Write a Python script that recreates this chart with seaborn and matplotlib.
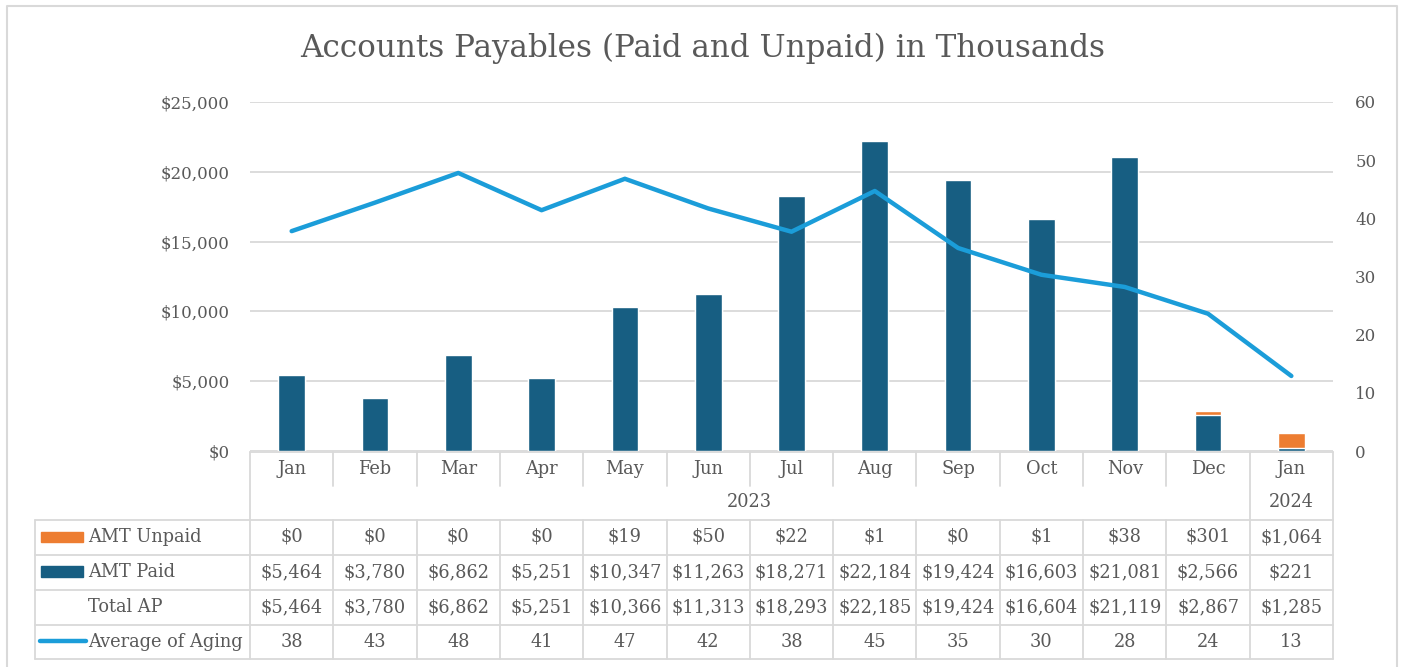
import numpy as np
import matplotlib
matplotlib.use("Agg")
import matplotlib.pyplot as plt
from matplotlib.patches import Rectangle
import seaborn as sns

# dados (valores em milhares)
meses = ["Jan", "Feb", "Mar", "Apr", "May", "Jun", "Jul", "Aug", "Sep", "Oct", "Nov", "Dec", "Jan"]
anos = ["2023"] * 12 + ["2024"]
amt_unpaid = [0, 0, 0, 0, 19, 50, 22, 1, 0, 1, 38, 301, 1064]
amt_paid = [5464, 3780, 6862, 5251, 10347, 11263, 18271, 22184, 19424, 16603, 21081, 2566, 221]
aging = [37.8, 42.7, 47.8, 41.4, 46.8, 41.7, 37.7, 44.7, 34.9, 30.3, 28.2, 23.6, 12.9]

total_ap = [u + p for u, p in zip(amt_unpaid, amt_paid)]
pos = np.arange(len(meses))

cor_unpaid = "#ED7D31"
cor_paid = "#175E82"
cor_linha = "#1B9DD9"
cor_grade = "#D9D9D9"
cor_texto = "#595959"

sns.set_style("white")
plt.rcParams["font.family"] = ["DejaVu Serif"]

W, H = 1401, 667
fig = plt.figure(figsize=(W / 100, H / 100), dpi=100)

# eixo de fundo em pixels para bordas e tabela
bg = fig.add_axes([0, 0, 1, 1])
bg.set_xlim(0, W)
bg.set_ylim(H, 0)
bg.axis("off")

x0, x1 = 250, 1333
y_top, y_zero = 102, 451
ax = fig.add_axes([x0 / W, 1 - y_zero / H, (x1 - x0) / W, (y_zero - y_top) / H])
ax.patch.set_alpha(0)

# barras empilhadas: total (laranja) por baixo, pago (azul) por cima
sns.barplot(x=pos, y=total_ap, color=cor_unpaid, width=0.32, saturation=1, ax=ax, zorder=3)
sns.barplot(x=pos, y=amt_paid, color=cor_paid, width=0.32, saturation=1, ax=ax, zorder=4)

ax.set_xlim(-0.5, len(meses) - 0.5)
ax.set_ylim(0, 25000)
ax.set_yticks(np.arange(0, 25001, 5000))
ax.set_yticklabels([f"${v:,.0f}" for v in np.arange(0, 25001, 5000)])
ax.yaxis.grid(True, color=cor_grade, lw=1.3, zorder=0)
ax.set_axisbelow(True)
ax.set_xticks([])
ax.set_xlabel("")
ax.set_ylabel("")
ax.tick_params(axis="y", length=0, pad=14.4, labelsize=12, labelcolor=cor_texto)
for s in ax.spines.values():
    s.set_visible(False)

ax2 = ax.twinx()
sns.lineplot(x=pos, y=aging, color=cor_linha, lw=3.2, ax=ax2, zorder=5)
ax2.set_xlim(-0.5, len(meses) - 0.5)
ax2.set_ylim(0, 60)
ax2.set_yticks(np.arange(0, 61, 10))
ax2.tick_params(axis="y", length=0, pad=16, labelsize=12, labelcolor=cor_texto)
ax2.set_ylabel("")
for s in ax2.spines.values():
    s.set_visible(False)

# titulo
bg.text(W / 2 + 2, 48, "Accounts Payables (Paid and Unpaid) in Thousands",
        ha="center", va="center", fontsize=22.3, color=cor_texto)

# borda externa
bg.plot([7, 7, 1397, 1397], [667, 6, 6, 667], color=cor_grade, lw=1.5, clip_on=False)

# tabela de dados
cw = (x1 - x0) / len(meses)
lw_t = 1.3
linhas_y = [452, 486, 520, 555, 590, 625, 659]
bg.plot([x0, x1], [452, 452], color=cor_grade, lw=lw_t)
for y in linhas_y[2:]:
    bg.plot([35, x1], [y, y], color=cor_grade, lw=lw_t)
bg.plot([35, 35], [520, 659], color=cor_grade, lw=lw_t)
bg.plot([x0, x0], [452, 659], color=cor_grade, lw=lw_t)
bg.plot([x1, x1], [452, 659], color=cor_grade, lw=lw_t)
for i in range(1, len(meses)):
    xv = x0 + i * cw
    if anos[i] != anos[i - 1]:
        bg.plot([xv, xv], [452, 659], color=cor_grade, lw=lw_t)
    else:
        bg.plot([xv, xv], [452, 486], color=cor_grade, lw=lw_t)
        bg.plot([xv, xv], [520, 659], color=cor_grade, lw=lw_t)

fs = 12.8
for i, m in enumerate(meses):
    cx = x0 + (i + 0.5) * cw
    bg.text(cx, 469, m, ha="center", va="center", fontsize=fs, color=cor_texto)
    bg.text(cx, 537, f"${amt_unpaid[i]:,}", ha="center", va="center", fontsize=fs, color=cor_texto)
    bg.text(cx, 572, f"${amt_paid[i]:,}", ha="center", va="center", fontsize=fs, color=cor_texto)
    bg.text(cx, 607, f"${total_ap[i]:,}", ha="center", va="center", fontsize=fs, color=cor_texto)
    bg.text(cx, 642, f"{aging[i]:.0f}", ha="center", va="center", fontsize=fs, color=cor_texto)

# rótulos dos anos
for ano in sorted(set(anos)):
    idx = [i for i, a in enumerate(anos) if a == ano]
    cx = x0 + (np.mean(idx) + 0.5) * cw
    bg.text(cx, 502, ano, ha="center", va="center", fontsize=fs, color=cor_texto)

# legenda da tabela
bg.add_patch(Rectangle((41, 532), 42, 10, color=cor_unpaid))
bg.add_patch(Rectangle((41, 566), 42, 11, color=cor_paid))
bg.plot([40, 86], [641, 641], color=cor_linha, lw=3.2, solid_capstyle="round")
for y, txt in zip([537, 572, 607, 642], ["AMT Unpaid", "AMT Paid", "Total AP", "Average of Aging"]):
    bg.text(88, y, txt, ha="left", va="center", fontsize=fs, color=cor_texto)

fig.savefig("out.png", dpi=100)
